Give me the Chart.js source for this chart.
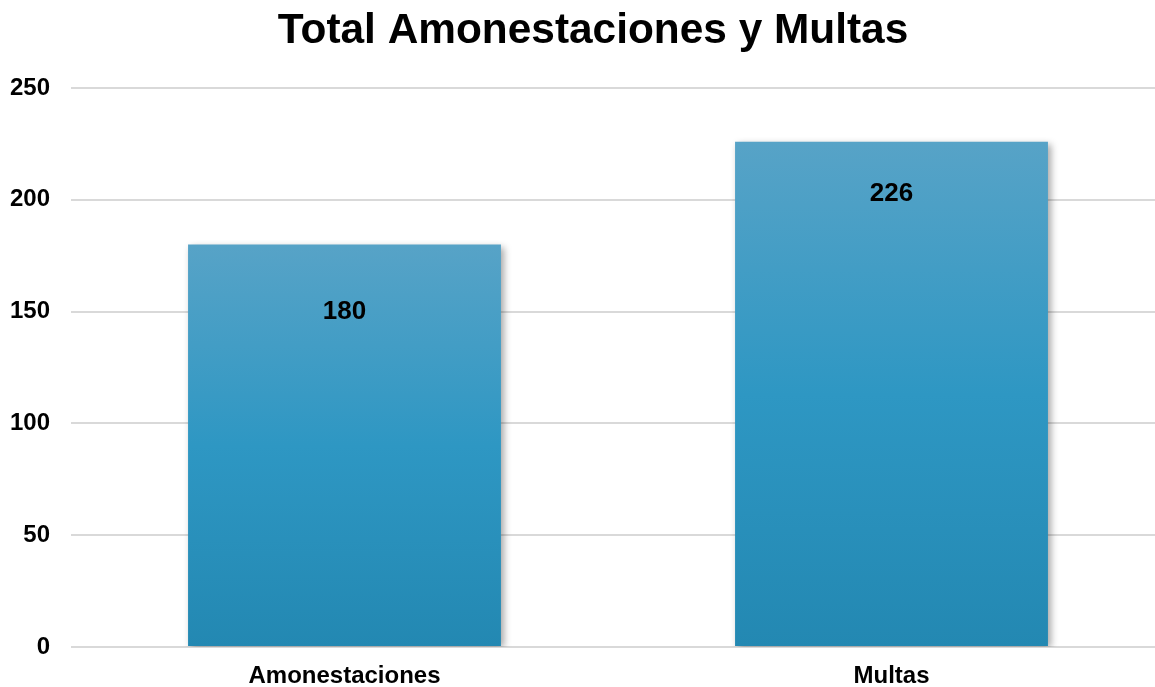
<!DOCTYPE html>
<html>
<head>
<meta charset="utf-8">
<script src="https://cdn.jsdelivr.net/npm/chart.js@4.4.1/dist/chart.umd.min.js"></script>
<style>
  html, body { margin: 0; padding: 0; background: #fff; overflow: hidden; }
  #chart { display: block; }
</style>
</head>
<body>
<canvas id="chart" width="1186" height="687" style="width:1186px;height:687px"></canvas>
<script>
// data
const TITLE = "Total Amonestaciones y Multas"
const categories = ["Amonestaciones", "Multas"]
const values = [180, 226]
const yTicks = [0, 50, 100, 150, 200, 250]

const FONT = "'Liberation Sans', Arial, sans-serif"
// how far below the top of each bar the value label sits (px)
const LABEL_DROP = [67, 52]

// vertical gradient for each bar, lighter at the top
function barGradient(ctx) {
    const chart = ctx.chart
    if (!chart.chartArea || ctx.type !== "data") return "#2E97C3"
    const y = chart.scales.y
    const top = y.getPixelForValue(ctx.raw)
    const bottom = y.getPixelForValue(0)
    const g = chart.ctx.createLinearGradient(0, top, 0, bottom)
    g.addColorStop(0, "#57A3C7")
    g.addColorStop(0.5, "#2E97C3")
    g.addColorStop(1, "#2388B2")
    return g
}

const barShadow = {
    id: "barShadow",
    beforeDatasetsDraw(chart) {
        const c = chart.ctx
        c.save()
        c.shadowColor = "rgba(0,0,0,0.35)"
        c.shadowBlur = 7
        c.shadowOffsetX = 3
        c.shadowOffsetY = 2
    },
    afterDatasetsDraw(chart) {
        chart.ctx.restore()
    }
}

const valueLabels = {
    id: "valueLabels",
    afterDatasetsDraw(chart) {
        const c = chart.ctx
        const meta = chart.getDatasetMeta(0)
        c.save()
        c.font = "bold 26px " + FONT
        c.fillStyle = "#000"
        c.textAlign = "center"
        c.textBaseline = "middle"
        meta.data.forEach(function(bar, i) {
            c.fillText(String(values[i]), bar.x, bar.y + LABEL_DROP[i])
        })
        c.restore()
    }
}

// title centred on the visible picture rather than the whole canvas
const pageTitle = {
    id: "pageTitle",
    afterDraw(chart) {
        const c = chart.ctx
        c.save()
        c.font = "bold 42.4px " + FONT
        c.fillStyle = "#000"
        c.textAlign = "center"
        c.textBaseline = "middle"
        c.fillText(TITLE, 593, 31)
        c.restore()
    }
}

const config = {
    type: "bar",
    data: {
        labels: categories,
        datasets: [{
            data: values,
            backgroundColor: barGradient,
            borderWidth: 0,
            categoryPercentage: 1,
            barPercentage: 0.572
        }]
    },
    options: {
        responsive: false,
        animation: false,
        layout: { padding: { left: 0, right: 21, top: 88, bottom: 0 } },
        plugins: {
            legend: { display: false },
            tooltip: { enabled: false },
            title: { display: false }
        },
        scales: {
            x: {
                offset: true,
                afterFit(scale) {
                    scale.height = 40
                },
                grid: { display: false },
                border: { display: false },
                ticks: {
                    color: "#000",
                    padding: 9,
                    font: { family: FONT, size: 24, weight: "bold", lineHeight: 1 }
                }
            },
            y: {
                min: 0,
                max: 250,
                afterBuildTicks(scale) {
                    scale.ticks = yTicks.map(function(v) { return { value: v } })
                },
                afterFit(scale) {
                    scale.width = 71
                },
                grid: { color: "#D9D9D9", lineWidth: 2, drawTicks: false },
                border: { display: false },
                ticks: {
                    color: "#000",
                    padding: 21,
                    font: { family: FONT, size: 24, weight: "bold" }
                }
            }
        }
    },
    plugins: [barShadow, valueLabels, pageTitle]
}

new Chart(document.getElementById("chart"), config)
</script>
</body>
</html>
